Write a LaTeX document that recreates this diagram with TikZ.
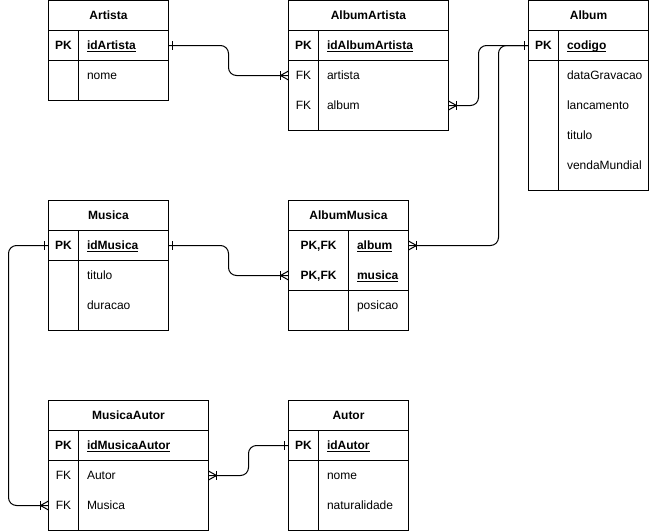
\documentclass[tikz,border=0pt]{standalone}
\usepackage{fontspec}
\setmainfont{Liberation Sans}
\usetikzlibrary{calc}

% underlined key column name, rule close under the baseline
\newsavebox\kfbox
\newcommand\keyfield[1]{\sbox\kfbox{#1}\rlap{\rule[-2pt]{\wd\kfbox}{0.9pt}}\usebox\kfbox}

\tikzset{
  tbl/.style={draw, rectangle, inner sep=0, outer sep=0, anchor=north west},
  ttl/.style={font=\fontsize{12}{14}\selectfont\bfseries, anchor=base, inner sep=0},
  keytag/.style={font=\fontsize{12}{14}\selectfont\bfseries, anchor=base, inner sep=0},
  tag/.style={font=\fontsize{12}{14}\selectfont, anchor=base, inner sep=0},
  keycol/.style={font=\fontsize{12}{14}\selectfont\bfseries, anchor=base west, inner sep=0},
  col/.style={font=\fontsize{12}{14}\selectfont, anchor=base west, inner sep=0},
  conn/.style={draw, line width=1pt, rounded corners=8pt},
  pics/erone/.style={code={\draw[line width=1pt] (4,-4.5) -- (4,4.5);}},
  pics/ermany/.style={code={
    \draw[line width=1pt] (0,-4.5) -- (8,0) -- (0,4.5);
    \draw[line width=1pt] (8,-4.5) -- (8,4.5);}}
}

\begin{document}
\begin{tikzpicture}[x=1pt, y=-1pt, line width=1pt]
\useasboundingbox (0,0) rectangle (649,531);
\begin{scope}[shift={(0.5,0.5)}]

% ---------- Artista ----------
\node[tbl, minimum width=120pt, minimum height=100pt] (artista) at (48,0) {};
\draw (48,30) -- (168,30) (48,60) -- (168,60) (78,30) -- (78,100);
\node[ttl] (artistaT) at (108,19.3) {Artista};
\node[keytag] (artistaK1) at (63,49.3) {PK};
\node[keycol] (artistaC1) at (86,49.3) {\keyfield{idArtista}};
\node[col] (artistaC2) at (86,79.3) {nome};

% ---------- AlbumArtista ----------
\node[tbl, minimum width=160pt, minimum height=130pt] (albart) at (288,0) {};
\draw (288,30) -- (448,30) (288,60) -- (448,60) (318,30) -- (318,130);
\node[ttl] (albartT) at (368,19.3) {AlbumArtista};
\node[keytag] (albartK1) at (303,49.3) {PK};
\node[keycol] (albartC1) at (326,49.3) {\keyfield{idAlbumArtista}};
\node[tag] (albartK2) at (303,79.3) {FK};
\node[col] (albartC2) at (326,79.3) {artista};
\node[tag] (albartK3) at (303,109.3) {FK};
\node[col] (albartC3) at (326,109.3) {album};

% ---------- Album ----------
\node[tbl, minimum width=120pt, minimum height=190pt] (album) at (528,0) {};
\draw (528,30) -- (648,30) (528,60) -- (648,60) (558,30) -- (558,190);
\node[ttl] (albumT) at (588,19.3) {Album};
\node[keytag] (albumK1) at (543,49.3) {PK};
\node[keycol] (albumC1) at (566,49.3) {\keyfield{codigo}};
\node[col] (albumC2) at (566,79.3) {dataGravacao};
\node[col] (albumC3) at (566,109.3) {lancamento};
\node[col] (albumC4) at (566,139.3) {titulo};
\node[col] (albumC5) at (566,169.3) {vendaMundial};

% ---------- Musica ----------
\node[tbl, minimum width=120pt, minimum height=130pt] (musica) at (48,200) {};
\draw (48,230) -- (168,230) (48,260) -- (168,260) (78,230) -- (78,330);
\node[ttl] (musicaT) at (108,219.3) {Musica};
\node[keytag] (musicaK1) at (63,249.3) {PK};
\node[keycol] (musicaC1) at (86,249.3) {\keyfield{idMusica}};
\node[col] (musicaC2) at (86,279.3) {titulo};
\node[col] (musicaC3) at (86,309.3) {duracao};

% ---------- AlbumMusica ----------
\node[tbl, minimum width=120pt, minimum height=130pt] (albmus) at (288,200) {};
\draw (288,230) -- (408,230) (288,290) -- (408,290) (348,230) -- (348,330);
\node[ttl] (albmusT) at (348,219.3) {AlbumMusica};
\node[keytag] (albmusK1) at (318,249.3) {PK,FK};
\node[keycol] (albmusC1) at (356,249.3) {\keyfield{album}};
\node[keytag] (albmusK2) at (318,279.3) {PK,FK};
\node[keycol] (albmusC2) at (356,279.3) {\keyfield{musica}};
\node[col] (albmusC3) at (356,309.3) {posicao};

% ---------- MusicaAutor ----------
\node[tbl, minimum width=160pt, minimum height=130pt] (musaut) at (48,400) {};
\draw (48,430) -- (208,430) (48,460) -- (208,460) (78,430) -- (78,530);
\node[ttl] (musautT) at (128,419.3) {MusicaAutor};
\node[keytag] (musautK1) at (63,449.3) {PK};
\node[keycol] (musautC1) at (86,449.3) {\keyfield{idMusicaAutor}};
\node[tag] (musautK2) at (63,479.3) {FK};
\node[col] (musautC2) at (86,479.3) {Autor};
\node[tag] (musautK3) at (63,509.3) {FK};
\node[col] (musautC3) at (86,509.3) {Musica};

% ---------- Autor ----------
\node[tbl, minimum width=120pt, minimum height=130pt] (autor) at (288,400) {};
\draw (288,430) -- (408,430) (288,460) -- (408,460) (318,430) -- (318,530);
\node[ttl] (autorT) at (348,419.3) {Autor};
\node[keytag] (autorK1) at (303,449.3) {PK};
\node[keycol] (autorC1) at (326,449.3) {\keyfield{idAutor}};
\node[col] (autorC2) at (326,479.3) {nome};
\node[col] (autorC3) at (326,509.3) {naturalidade};

% ---------- connection points on the table borders ----------
\coordinate (pArtistaPK)   at ($(artista.north east)+(0,45)$);
\coordinate (pAlbArtArt)   at ($(albart.north west)+(0,75)$);
\coordinate (pAlbArtAlb)   at ($(albart.north east)+(0,105)$);
\coordinate (pAlbumPK)     at ($(album.north west)+(0,45)$);
\coordinate (pAlbMusAlb)   at ($(albmus.north east)+(0,45)$);
\coordinate (pAlbMusMus)   at ($(albmus.north west)+(0,75)$);
\coordinate (pMusicaPKe)   at ($(musica.north east)+(0,45)$);
\coordinate (pMusicaPKw)   at ($(musica.north west)+(0,45)$);
\coordinate (pMusAutMus)   at ($(musaut.north west)+(0,105)$);
\coordinate (pMusAutAut)   at ($(musaut.north east)+(0,75)$);
\coordinate (pAutorPK)     at ($(autor.north west)+(0,45)$);

% ---------- relationships ----------
\draw[conn] (pArtistaPK) -- ++(60,0) |- (pAlbArtArt);
\draw[conn] (pAlbumPK) -- ++(-50,0) |- (pAlbArtAlb);
\draw[conn] (pAlbumPK) -- ++(-30,0) |- (pAlbMusAlb);
\draw[conn] (pMusicaPKe) -- ++(60,0) |- (pAlbMusMus);
\draw[conn] (pMusicaPKw) -- ++(-40,0) |- (pMusAutMus);
\draw[conn] (pAutorPK) -- ++(-40,0) |- (pMusAutAut);

% ---------- cardinality marks ----------
\pic at (pArtistaPK) {erone};
\pic[xscale=-1] at (pAlbArtArt) {ermany};
\pic[xscale=-1] at (pAlbumPK) {erone};
\pic at (pAlbArtAlb) {ermany};
\pic at (pAlbMusAlb) {ermany};
\pic at (pMusicaPKe) {erone};
\pic[xscale=-1] at (pAlbMusMus) {ermany};
\pic[xscale=-1] at (pMusicaPKw) {erone};
\pic[xscale=-1] at (pMusAutMus) {ermany};
\pic[xscale=-1] at (pAutorPK) {erone};
\pic at (pMusAutAut) {ermany};

\end{scope}
\end{tikzpicture}
\end{document}
